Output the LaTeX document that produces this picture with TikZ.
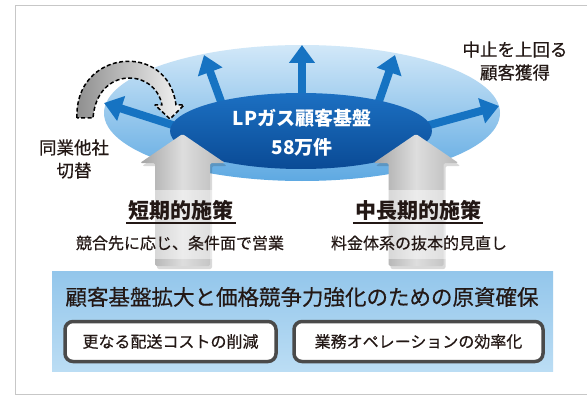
\documentclass[tikz,border=0pt]{standalone}
\usepackage{fontspec}
\setmainfont{Noto Sans CJK JP}
\newfontfamily\medfont[FakeBold=0.45]{Noto Sans CJK JP}
\usetikzlibrary{arrows.meta,calc}
\definecolor{txt}{HTML}{231815}
\definecolor{outerTop}{HTML}{D2E8F8}
\definecolor{outerBot}{HTML}{5EA9E2}
\definecolor{inTop}{HTML}{1C70C2}
\definecolor{inBot}{HTML}{0A4A95}
\definecolor{blueArr}{HTML}{1673C2}
\definecolor{bandTop}{HTML}{93C6EB}
\definecolor{bandBot}{HTML}{BBDDF4}
\definecolor{boxLine}{HTML}{4A4A4A}
\tikzset{
  barrow/.style={draw=blueArr, line width=8pt, -{Triangle[width=25pt,length=18pt]}},
  garrow/.style={left color=black!36, right color=black!28, middle color=black!13, rounded corners=1.5pt},
  gshadow/.style={fill=black, opacity=0.15, rounded corners=2pt},
  headtxt/.style={text=txt, inner sep=0pt, font=\bfseries\fontsize{21}{25}\selectfont},
  subtxt/.style={text=txt, inner sep=0pt, font=\medfont\fontsize{16}{19}\selectfont},
  sidetxt/.style={text=txt, inner sep=0pt, align=center, font=\medfont\fontsize{17.5}{23}\selectfont},
  lptxt/.style={text=white, inner sep=0pt, align=center, font=\bfseries\fontsize{19}{29}\selectfont},
  titletxt/.style={text=txt, inner sep=0pt, font=\medfont\fontsize{21.5}{25}\selectfont},
  boxnode/.style={draw=boxLine, line width=3.5pt, rounded corners=8pt, fill=white, text=txt,
    minimum height=40pt, inner sep=0pt, font=\medfont\fontsize{16}{19}\selectfont},
  uline/.style={draw=txt, line width=1.8pt}
}
\begin{document}
\begin{tikzpicture}[x=1pt,y=-1pt]
\useasboundingbox (0,0) rectangle (587,396);
\fill[white] (0,0) rectangle (587,396);
\draw[black!22, line width=0.8pt, fill=white] (15,5) rectangle (600,394);

% outer ellipse
\shade[top color=outerTop, bottom color=outerBot] (302,113) ellipse [x radius=198pt, y radius=68pt];

% blue arrows
\coordinate (a1s) at (185,129); \coordinate (a1e) at (104,103);
\coordinate (a2s) at (223,107); \coordinate (a2e) at (204,55);
\coordinate (a3s) at (302,105); \coordinate (a3e) at (302,45);
\coordinate (a4s) at (377,107); \coordinate (a4e) at (395,55);
\coordinate (a5s) at (415,129); \coordinate (a5e) at (499,106);
\foreach \i in {1,...,5} {\draw[barrow] (a\i s) -- (a\i e);}

% inner ellipse
\shade[top color=inTop, bottom color=inBot] (301,131) ellipse [x radius=131pt, y radius=38pt];
\node[lptxt] (lp) at (302,133) {LPガス顧客基盤\\58万件};

% dashed curved arrow
\path[left color=black!45, right color=black!4, draw=black, line width=1.5pt,
      dash pattern=on 4pt off 2.4pt, line join=round]
  (77,118) .. controls (74,50) and (168,40) .. (176,105) -- (184,105) -- (170,119)
  -- (155,105) -- (162,105) .. controls (155,68) and (97,66) .. (93,118) -- cycle;

% gray arrows (shadows)
\fill[gshadow] (184.5,137) -- (227,166) -- (212,166) -- (212,269) -- (157,269) -- (157,166) -- (142,166) -- cycle;
\fill[gshadow] (418,137) -- (460.5,166) -- (445.5,166) -- (445.5,269) -- (390.5,269) -- (390.5,166) -- (375.5,166) -- cycle;
% gray arrows
\shade[garrow] (182.5,134) -- (225,163) -- (210,163) -- (210,266) -- (155,266) -- (155,163) -- (140,163) -- cycle;
\shade[garrow] (416,134) -- (458.5,163) -- (443.5,163) -- (443.5,266) -- (388.5,266) -- (388.5,163) -- (373.5,163) -- cycle;
\fill[white, opacity=0.45] (60,190) rectangle (540,259);

% side labels
\node[sidetxt] (l1) at (74,159) {同業他社\\切替};
\node[sidetxt] (l2) at (515,61) {中止を上回る\\顧客獲得};

% headings
\node[headtxt] (h1) at (181,210) {短期的施策};
\draw[uline] ($(h1.south west)+(-2,3)$) -- ($(h1.south east)+(2,3)$);
\node[subtxt] (s1) at (180,243) {競合先に応じ、条件面で営業};
\node[headtxt] (h2) at (418,210) {中長期的施策};
\draw[uline] ($(h2.south west)+(-2,3)$) -- ($(h2.south east)+(2,3)$);
\node[subtxt] (s2) at (419,243) {料金体系の抜本的見直し};

% band
\shade[top color=bandTop, bottom color=bandBot] (52,271) rectangle (553,371);
\node[titletxt] (t) at (302,297) {顧客基盤拡大と価格競争力強化のための原資確保};
\node[boxnode, minimum width=211pt] (b1) at (170.5,341.5) {更なる配送コストの削減};
\node[boxnode, minimum width=249pt] (b2) at (418.5,341.5) {業務オペレーションの効率化};
\end{tikzpicture}
\end{document}
